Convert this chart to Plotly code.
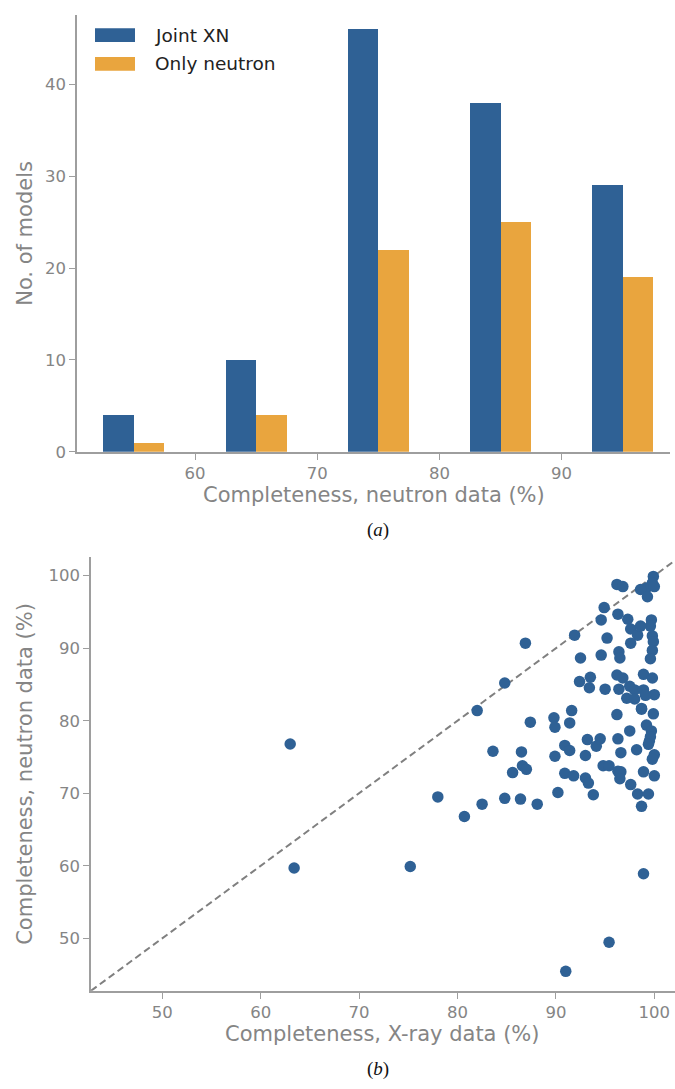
import plotly.graph_objects as go

# ---- panel (a): histogram of neutron-data completeness ----
bin_centres = [55, 65, 75, 85, 95]
joint_xn = [4, 10, 46, 38, 29]
only_neutron = [1, 4, 22, 25, 19]

# ---- panel (b): X-ray vs neutron completeness for joint XN models ----
xray_completeness = [
    63.0, 63.4, 75.2, 78.0, 80.7, 82.5, 82.0, 83.6, 84.8, 84.8,
    85.6, 86.5, 86.6, 87.0, 86.4, 86.9, 87.4, 88.1, 89.8, 89.9,
    89.9, 90.2, 90.9, 91.8, 90.9, 91.4, 91.4, 91.6, 93.0, 93.0,
    93.3, 93.8, 93.2, 94.1, 94.5, 94.8, 95.4, 96.3, 96.6, 96.5,
    97.6, 98.3, 99.4, 98.7, 98.9, 100.0, 98.2, 96.6, 96.3, 96.2,
    97.5, 98.9, 95.4, 91.0, 99.9, 99.2, 99.7, 99.5, 100.0, 99.8,
    98.7, 99.6, 99.4, 91.9, 92.5, 94.6, 95.2, 94.6, 94.9, 96.2,
    96.8, 96.3, 97.3, 97.6, 98.3, 97.6, 99.7, 99.6, 99.8, 99.9,
    99.8, 99.6, 96.4, 96.5, 98.6, 99.9, 99.8, 99.2, 98.6, 100.0,
    99.3, 92.4, 93.5, 93.4, 95.0, 96.2, 96.8, 96.4, 97.5, 98.0,
    97.2, 98.0, 98.9, 98.9, 99.8, 100.0, 99.1, 98.7,
]
neutron_completeness = [
    76.8, 59.7, 59.9, 69.5, 66.8, 68.5, 81.4, 75.8, 85.2, 69.3,
    72.85, 75.7, 73.8, 73.3, 69.2, 90.7, 79.8, 68.5, 80.4, 79.1,
    75.1, 70.1, 72.75, 72.4, 76.6, 75.9, 79.7, 81.4, 75.2, 72.1,
    71.4, 69.8, 77.4, 76.5, 77.5, 73.8, 73.8, 73.05, 72.95, 72.0,
    71.2, 69.9, 69.9, 68.2, 72.95, 72.4, 76.0, 75.6, 77.5, 80.85,
    78.6, 58.9, 49.45, 45.45, 80.95, 79.4, 78.6, 77.2, 75.3, 74.7,
    81.6, 77.8, 76.75, 91.8, 88.65, 89.05, 91.4, 93.9, 95.6, 98.8,
    98.5, 94.7, 94.0, 92.65, 91.8, 90.7, 93.9, 93.05, 91.7, 90.9,
    89.7, 88.55, 89.5, 88.65, 93.05, 99.9, 99.0, 98.3, 98.1, 98.5,
    97.1, 85.4, 86.0, 84.55, 84.35, 86.3, 85.9, 84.35, 84.75, 84.25,
    83.1, 83.0, 84.25, 86.4, 85.9, 83.6, 83.5, 81.7,
]

# y = x reference line spanning the panel limits
diagonal_limits = [42.76, 102.6]

W, H = 675, 1089
BLUE = "#2f6195"
ORANGE = "#e9a53e"
GREY_TXT = "#858585"
SPINE = "#9e9e9e"
FONT = "DejaVu Sans"


def px(x):
    return x / W


def py(y):
    return 1 - y / H


fig = go.Figure()

fig.add_trace(go.Bar(
    x=bin_centres, y=joint_xn, width=2.5, offset=-2.5,
    marker=dict(color=BLUE, line=dict(width=0)),
    name="Joint XN", xaxis="x", yaxis="y", showlegend=False,
))
fig.add_trace(go.Bar(
    x=bin_centres, y=only_neutron, width=2.5, offset=0,
    marker=dict(color=ORANGE, line=dict(width=0)),
    name="Only neutron", xaxis="x", yaxis="y", showlegend=False,
))

fig.add_trace(go.Scatter(
    x=diagonal_limits, y=diagonal_limits, mode="lines",
    line=dict(color="#808080", width=2, dash="7px,4px"),
    xaxis="x2", yaxis="y2", showlegend=False, hoverinfo="skip",
))
fig.add_trace(go.Scatter(
    x=xray_completeness, y=neutron_completeness, mode="markers",
    marker=dict(color=BLUE, size=11.5, line=dict(width=0)),
    xaxis="x2", yaxis="y2", showlegend=False,
))

axis_common = dict(
    showgrid=False, zeroline=False, showline=True, linecolor=SPINE,
    linewidth=1.6, ticks="outside", ticklen=6, tickwidth=1.4,
    tickcolor=SPINE, tickfont=dict(family=FONT, size=16.5, color=GREY_TXT),
    mirror=False, fixedrange=True,
)

fig.update_layout(
    width=W, height=H,
    margin=dict(l=0, r=0, t=0, b=0),
    paper_bgcolor="white", plot_bgcolor="white",
    barmode="overlay", bargap=0,
    xaxis=dict(axis_common, domain=[px(77), px(670)], range=[50.34, 98.87],
               tickvals=[60, 70, 80, 90], anchor="y"),
    yaxis=dict(axis_common, domain=[py(456), py(15)], range=[0, 47.55],
               tickvals=[0, 10, 20, 30, 40], anchor="x"),
    xaxis2=dict(axis_common, domain=[px(91), 1.0], range=[42.76, 102.1],
                tickvals=[50, 60, 70, 80, 90, 100], anchor="y2"),
    yaxis2=dict(axis_common, domain=[py(1000), py(562)], range=[42.76, 102.6],
                tickvals=[50, 60, 70, 80, 90, 100], anchor="x2"),
)

# legend for panel (a)
legend_items = [("Joint XN", BLUE, 28.5, 42.5), ("Only neutron", ORANGE, 57.5, 71.5)]
for label, colour, top, bottom in legend_items:
    fig.add_shape(type="rect", xref="paper", yref="paper",
                  x0=px(95), x1=px(135), y0=py(bottom), y1=py(top),
                  fillcolor=colour, line=dict(width=0))
    fig.add_annotation(x=px(153), y=py((top + bottom) / 2), xref="paper", yref="paper",
                       text=label, showarrow=False, xanchor="left", yanchor="middle",
                       font=dict(family=FONT, size=18.5, color="#222222"))

title_font = dict(family=FONT, size=21, color=GREY_TXT)
annotations = [
    (px(373.5), py(500), "Completeness, neutron data (%)", 0),
    (px(25), py(236), "No. of models", -90),
    (px(382), py(1044), "Completeness, X-ray data (%)", 0),
    (px(25), py(781), "Completeness, neutron data (%)", -90),
]
for x, y, text, angle in annotations:
    fig.add_annotation(x=x, y=y, xref="paper", yref="paper", text=text,
                       showarrow=False, textangle=angle, xanchor="center",
                       yanchor="middle", font=title_font)

for y, letter in [(535, "a"), (1079, "b")]:
    fig.add_annotation(x=px(378), y=py(y), xref="paper", yref="paper",
                       text=f"(<i>{letter}</i>)", showarrow=False,
                       xanchor="center", yanchor="middle",
                       font=dict(family="Liberation Serif", size=19, color="#111111"))

fig.write_html("out.html")
